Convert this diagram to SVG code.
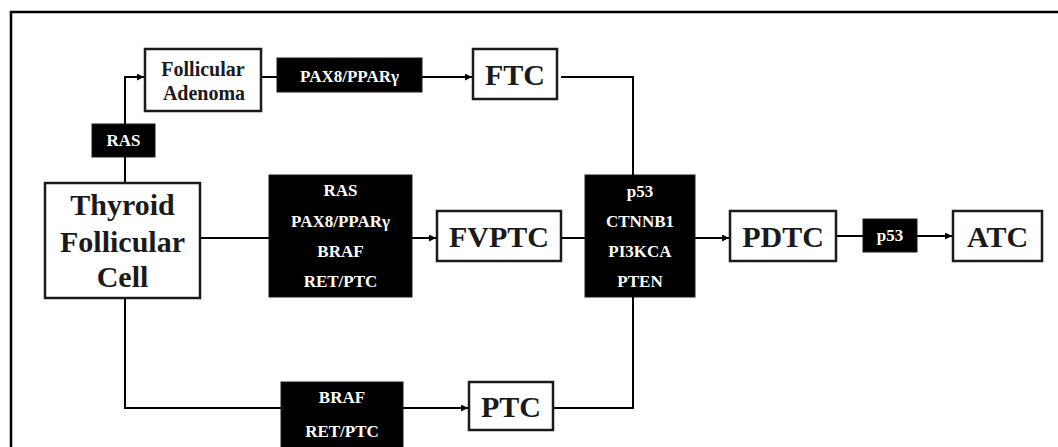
<svg xmlns="http://www.w3.org/2000/svg" width="1058" height="447" viewBox="0 0 1058 447">
<style>
.wb{fill:#fff;stroke:#1a1a1a;stroke-width:2.5}
.bb{fill:#000;stroke:#1a1a1a;stroke-width:1}
.lg{font-weight:bold;font-size:30px;fill:#1a1a1a;text-anchor:middle}
.md{font-weight:bold;font-size:20px;fill:#1a1a1a;text-anchor:middle}
.sm{font-weight:bold;font-size:17px;fill:#fff;text-anchor:middle}
.ln{fill:none;stroke:#000;stroke-width:2}
</style>
<defs>
<marker id="ah" viewBox="0 0 10 10" refX="10" refY="5" markerWidth="8" markerHeight="7" markerUnits="userSpaceOnUse" orient="auto">
<path d="M0,0 L10,5 L0,10 z" fill="#000"/>
</marker>
</defs>
<rect x="0" y="0" width="1058" height="447" fill="#fff"/>
<rect x="11" y="12" width="1070" height="460" fill="none" stroke="#000" stroke-width="2.5"/>
<g id="connectors">
<path class="ln" d="M125,183 V77 H144" marker-end="url(#ah)"/>
<path class="ln" d="M261,77 H278"/>
<path class="ln" d="M422,77 H472" marker-end="url(#ah)"/>
<path class="ln" d="M561,77 H633 V175"/>
<path class="ln" d="M200,238 H269"/>
<path class="ln" d="M412,238 H436" marker-end="url(#ah)"/>
<path class="ln" d="M561,238 H585"/>
<path class="ln" d="M695,238 H729" marker-end="url(#ah)"/>
<path class="ln" d="M836,236 H863"/>
<path class="ln" d="M917,236 H952" marker-end="url(#ah)"/>
<path class="ln" d="M125,298 V408 H281"/>
<path class="ln" d="M403,408 H468" marker-end="url(#ah)"/>
<path class="ln" d="M553,408 H633 V297"/>
</g>
<g id="thyroid">
<rect class="wb" x="45" y="183" width="155" height="115"/>
<text class="lg" style="font-family:'Liberation Serif',serif" x="122.5" y="215">Thyroid</text>
<text class="lg" style="font-family:'Liberation Serif',serif" x="122.5" y="252">Follicular</text>
<text class="lg" style="font-family:'Liberation Serif',serif" x="122.5" y="287">Cell</text>
</g>
<g id="ras">
<rect class="bb" x="92" y="124" width="63" height="33"/>
<text class="sm" style="font-family:'Liberation Serif',serif" x="123.5" y="146">RAS</text>
</g>
<g id="adenoma">
<rect class="wb" x="145" y="49" width="116" height="62"/>
<text class="md" style="font-family:'Liberation Serif',serif" x="203" y="76">Follicular</text>
<text class="md" style="font-family:'Liberation Serif',serif" x="204" y="100">Adenoma</text>
</g>
<g id="pax8">
<rect class="bb" x="277" y="58" width="145" height="34"/>
<text class="sm" style="font-family:'Liberation Serif',serif" x="349.5" y="82">PAX8/PPARγ</text>
</g>
<g id="ftc">
<rect class="wb" x="473" y="49" width="84" height="50"/>
<text class="lg" style="font-family:'Liberation Serif',serif" x="515" y="85">FTC</text>
</g>
<g id="mut1">
<rect class="bb" x="269" y="175" width="143" height="122"/>
<text class="sm" style="font-family:'Liberation Serif',serif" x="340.5" y="196">RAS</text>
<text class="sm" style="font-family:'Liberation Serif',serif" x="340.5" y="227">PAX8/PPARγ</text>
<text class="sm" style="font-family:'Liberation Serif',serif" x="340.5" y="257">BRAF</text>
<text class="sm" style="font-family:'Liberation Serif',serif" x="340.5" y="287">RET/PTC</text>
</g>
<g id="fvptc">
<rect class="wb" x="437" y="211" width="124" height="50"/>
<text class="lg" style="font-family:'Liberation Serif',serif" x="499" y="247">FVPTC</text>
</g>
<g id="mut2">
<rect class="bb" x="585" y="175" width="110" height="122"/>
<text class="sm" style="font-family:'Liberation Serif',serif" x="640" y="197">p53</text>
<text class="sm" style="font-family:'Liberation Serif',serif" x="640" y="227">CTNNB1</text>
<text class="sm" style="font-family:'Liberation Serif',serif" x="640" y="257">PI3KCA</text>
<text class="sm" style="font-family:'Liberation Serif',serif" x="640" y="287">PTEN</text>
</g>
<g id="pdtc">
<rect class="wb" x="730" y="211" width="106" height="50"/>
<text class="lg" style="font-family:'Liberation Serif',serif" x="783" y="247">PDTC</text>
</g>
<g id="p53">
<rect class="bb" x="863" y="219" width="54" height="33"/>
<text class="sm" style="font-family:'Liberation Serif',serif" x="890" y="241">p53</text>
</g>
<g id="atc">
<rect class="wb" x="953" y="211" width="89" height="50"/>
<text class="lg" style="font-family:'Liberation Serif',serif" x="997.5" y="247">ATC</text>
</g>
<g id="mut3">
<rect class="bb" x="281" y="382" width="122" height="80"/>
<text class="sm" style="font-family:'Liberation Serif',serif" x="342" y="403">BRAF</text>
<text class="sm" style="font-family:'Liberation Serif',serif" x="342" y="437">RET/PTC</text>
</g>
<g id="ptc">
<rect class="wb" x="469" y="382" width="84" height="48"/>
<text class="lg" style="font-family:'Liberation Serif',serif" x="511" y="417">PTC</text>
</g>
</svg>
